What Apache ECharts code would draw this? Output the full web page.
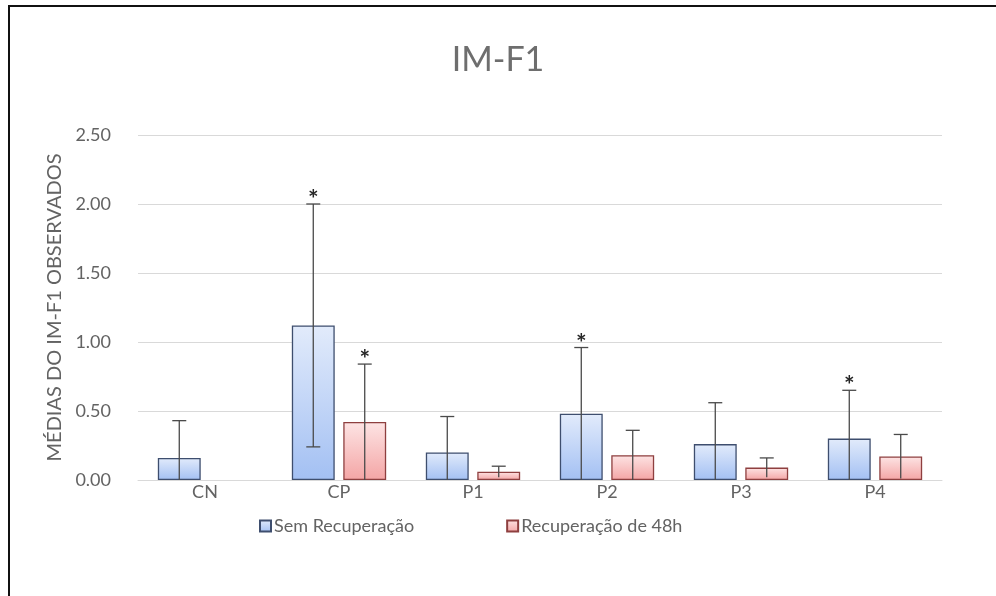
<!DOCTYPE html>
<html>
<head>
<meta charset="utf-8">
<script src="https://cdn.jsdelivr.net/npm/echarts@6/dist/echarts.min.js"></script>
<style>
  html, body { margin: 0; padding: 0; background: #ffffff; }
  #chart { width: 996px; height: 596px; }
</style>
</head>
<body>
<div id="chart"></div>
<script>
// Groups on the x axis
const categories = ['CN', 'CP', 'P1', 'P2', 'P3', 'P4'];

// Means and standard deviations, without recovery
const semRecuperacao = [0.16, 1.12, 0.20, 0.48, 0.26, 0.30];
const semRecuperacaoDP = [0.27, 0.88, 0.26, 0.48, 0.30, 0.35];

// Means and standard deviations, after 48h recovery
const recuperacao48h = ['-', 0.42, 0.06, 0.18, 0.09, 0.17];
const recuperacao48hDP = [0, 0.42, 0.04, 0.18, 0.07, 0.16];

// Significance markers (*) per group
const sigSem = [false, true, false, true, false, true];
const sig48 = [false, true, false, false, false, false];

// Y axis ticks
const yTicks = [0, 0.5, 1.0, 1.5, 2.0, 2.5];

const FONT = 'Lato';
const TEXT = '#636363';
const BAR_W = 0.32;   // fraction of band
const BAR_GAP = 0.2;  // fraction of bar width

const chart = echarts.init(document.getElementById('chart'), null, { renderer: 'canvas' });

function errorSeries(name, means, sds, sig, side) {
  const data = means.map((m, i) => [i, m === '-' ? null : m, sds[i], sig[i] ? 1 : 0]);
  return {
    name: name + ' DP',
    type: 'custom',
    z: 5,
    silent: true,
    data: data,
    encode: { x: 0, y: 1 },
    renderItem: function (params, api) {
      const mean = api.value(1);
      if (mean === null || isNaN(mean)) return null;
      const sd = api.value(2);
      const band = api.size([1, 0])[0];
      const bw = band * BAR_W;
      const offset = side * (bw + bw * BAR_GAP) / 2;
      const top = api.coord([api.value(0), mean + sd]);
      const lowVal = Math.max(mean - sd, 0);
      const low = api.coord([api.value(0), lowVal]);
      const x = top[0] + offset;
      const style = { stroke: '#4a4a4a', lineWidth: 1.3 };
      const capHalf = 7;
      const children = [
        { type: 'line', shape: { x1: x, y1: top[1], x2: x, y2: low[1] }, style: style },
        { type: 'line', shape: { x1: x - capHalf, y1: top[1], x2: x + capHalf, y2: top[1] }, style: style }
      ];
      if (mean - sd > 0.02) {
        children.push({ type: 'line', shape: { x1: x - capHalf, y1: low[1], x2: x + capHalf, y2: low[1] }, style: style });
      }
      if (api.value(3) === 1) {
        children.push({
          type: 'text',
          style: {
            text: '*', x: x, y: top[1] - 4,
            align: 'center', verticalAlign: 'middle',
            fill: '#262626', font: 'bold 25px ' + FONT
          }
        });
      }
      return { type: 'group', children: children };
    }
  };
}

function barGradient(top, bottom) {
  return new echarts.graphic.LinearGradient(0, 0, 0, 1, [
    { offset: 0, color: top },
    { offset: 1, color: bottom }
  ]);
}

const option = {
  backgroundColor: '#ffffff',
  animation: false,
  title: {
    text: 'IM-F1',
    left: 'center',
    top: 38,
    textStyle: { fontFamily: FONT, fontSize: 34, fontWeight: 'normal', color: '#6e6e6e' }
  },
  legend: {
    top: 512,
    left: 254,
    icon: 'rect',
    itemWidth: 11,
    itemHeight: 11,
    itemGap: 92,
    data: ['Sem Recuperação', 'Recuperação de 48h'],
    textStyle: { fontFamily: FONT, fontSize: 18, color: TEXT, padding: [0, 0, 0, -2] }
  },
  grid: { left: 138, right: 54, top: 135, bottom: 116 },
  xAxis: {
    type: 'category',
    data: categories,
    axisLine: { lineStyle: { color: '#d9d9d9', width: 1 } },
    axisTick: { show: false },
    axisLabel: { fontFamily: FONT, fontSize: 18, color: TEXT, margin: 3 }
  },
  yAxis: {
    type: 'value',
    min: yTicks[0],
    max: yTicks[yTicks.length - 1],
    interval: 0.5,
    name: 'MÉDIAS DO IM-F1 OBSERVADOS',
    nameLocation: 'middle',
    nameRotate: 90,
    nameGap: 69,
    nameTextStyle: { fontFamily: FONT, fontSize: 20, color: TEXT },
    axisLine: { show: false },
    axisTick: { show: false },
    splitLine: { lineStyle: { color: '#d9d9d9', width: 1 } },
    axisLabel: {
      fontFamily: FONT, fontSize: 18, color: TEXT, margin: 27,
      formatter: v => v.toFixed(2)
    }
  },
  series: [
    {
      name: 'Sem Recuperação',
      type: 'bar',
      barWidth: (BAR_W * 100) + '%',
      barGap: (BAR_GAP * 100) + '%',
      data: semRecuperacao,
      itemStyle: {
        color: barGradient('#e2ebfb', '#a3c0f3'),
        borderColor: '#3e4e6e',
        borderWidth: 1.3
      }
    },
    {
      name: 'Recuperação de 48h',
      type: 'bar',
      barWidth: (BAR_W * 100) + '%',
      barGap: (BAR_GAP * 100) + '%',
      data: recuperacao48h,
      itemStyle: {
        color: barGradient('#fde4e4', '#f4a5a5'),
        borderColor: '#8e3f3f',
        borderWidth: 1.3
      }
    },
    errorSeries('Sem Recuperação', semRecuperacao, semRecuperacaoDP, sigSem, -1),
    errorSeries('Recuperação de 48h', recuperacao48h, recuperacao48hDP, sig48, 1)
  ],
  graphic: [
    {
      type: 'rect',
      silent: true,
      z: 100,
      shape: { x: 9, y: 6, width: 1100, height: 700 },
      style: { fill: 'none', stroke: '#111111', lineWidth: 2 }
    }
  ]
};

chart.setOption(option);
</script>
</body>
</html>
